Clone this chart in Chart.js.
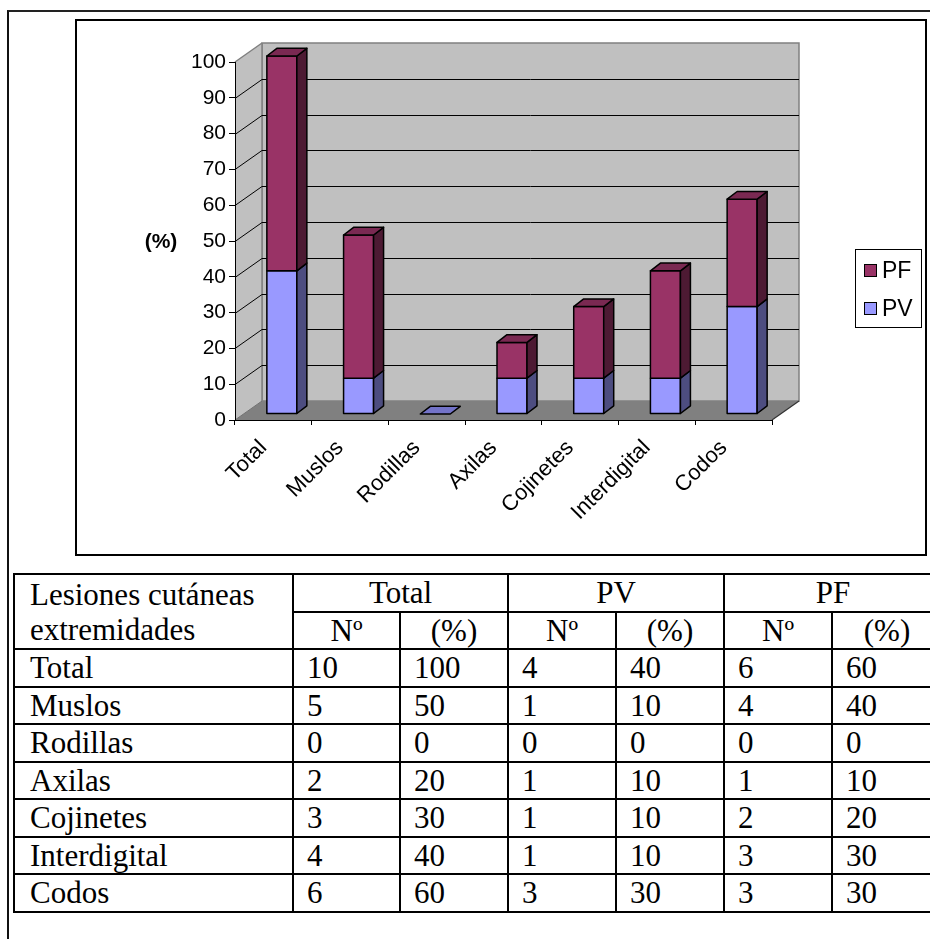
<!DOCTYPE html>
<html lang="es">
<head>
<meta charset="utf-8">
<script src="https://cdn.jsdelivr.net/npm/chart.js@4.4.1/dist/chart.umd.min.js"></script>
<style>
  html, body { margin: 0; padding: 0; background: #fff; }
  body { width: 930px; height: 939px; overflow: hidden; position: relative; }
  #frame { position: absolute; left: 7px; top: 10px; width: 960px; height: 960px;
           border-top: 2px solid #222; border-left: 2px solid #111; }
  #chartBox { position: absolute; left: 75px; top: 19px; width: 852px; height: 537px;
              box-sizing: border-box; border: 2px solid #000; z-index: 2; pointer-events: none; }
  #chart { position: absolute; left: 0; top: 0; z-index: 1; }
  table { position: absolute; left: 13px; top: 573px; border-collapse: collapse; table-layout: fixed;
          width: 928px; font-family: 'Liberation Serif', 'Times New Roman', serif; font-size: 31px; color: #000; }
  td { border: 2px solid #000; padding: 0 0 0 13px; height: 35.5px; line-height: 1; white-space: nowrap; vertical-align: middle; }
  td.c { text-align: center; padding: 0; }
  td.head { line-height: 35px; padding-left: 15px; }
  td.first { padding-left: 15px; }
</style>
</head>
<body>
<div id="frame"></div>
<canvas id="chart" width="930" height="556"></canvas>
<div id="chartBox"></div>
<table id="tbl">
  <colgroup>
    <col style="width:279px"><col style="width:107px"><col style="width:108px">
    <col style="width:108px"><col style="width:108px"><col style="width:108px"><col style="width:110px">
  </colgroup>
  <tbody id="tbody"></tbody>
</table>
<script>
// Lesiones cutáneas en extremidades: PV / PF
const categories = ['Total', 'Muslos', 'Rodillas', 'Axilas', 'Cojinetes', 'Interdigital', 'Codos'];
const totalCount = [10, 5, 0, 2, 3, 4, 6];
const totalPct   = [100, 50, 0, 20, 30, 40, 60];
const pvCount    = [4, 1, 0, 1, 1, 1, 3];
const pvPct      = [40, 10, 0, 10, 10, 10, 30];
const pfCount    = [6, 4, 0, 1, 2, 3, 3];
const pfPct      = [60, 40, 0, 10, 20, 30, 30];
const yTickStep  = 10;
const yMax       = 100;

// table
const tbody = document.getElementById('tbody');
let html = '<tr><td class="head" rowspan="2">Lesiones cutáneas<br>extremidades</td>' +
  '<td class="c" colspan="2">Total</td><td class="c" colspan="2">PV</td><td class="c" colspan="2">PF</td></tr>' +
  '<tr>' + ['Nº', '(%)', 'Nº', '(%)', 'Nº', '(%)'].map(t => '<td class="c">' + t + '</td>').join('') + '</tr>';
categories.forEach((c, i) => {
  html += '<tr><td class="first">' + c + '</td><td>' + totalCount[i] + '</td><td>' + totalPct[i] +
    '</td><td>' + pvCount[i] + '</td><td>' + pvPct[i] + '</td><td>' + pfCount[i] + '</td><td>' + pfPct[i] + '</td></tr>';
});
tbody.innerHTML = html;

// 3D look
const WALL_DX = 27, WALL_DY = -19;   // depth of the walls and floor
const BAR_OX = 8.5, BAR_OY = -6;     // bars sit inside the depth
const BAR_DX = 10, BAR_DY = -7.7;    // depth of each bar
const shades = [
  { front: '#9999FF', side: '#4D4D80', top: '#7373C8' },  // PV
  { front: '#993366', side: '#4D1A33', top: '#7A2952' }   // PF
];
const FONT = "'Liberation Sans', Arial, sans-serif";

function poly(ctx, pts, fill, stroke, lw) {
  ctx.beginPath();
  ctx.moveTo(pts[0][0], pts[0][1]);
  for (let k = 1; k < pts.length; k++) ctx.lineTo(pts[k][0], pts[k][1]);
  ctx.closePath();
  if (fill) { ctx.fillStyle = fill; ctx.fill(); }
  if (stroke) { ctx.strokeStyle = stroke; ctx.lineWidth = lw || 1; ctx.stroke(); }
}
function line(ctx, x1, y1, x2, y2, color, lw) {
  ctx.beginPath(); ctx.moveTo(x1, y1); ctx.lineTo(x2, y2);
  ctx.strokeStyle = color; ctx.lineWidth = lw || 1; ctx.stroke();
}

const walls3d = {
  id: 'walls3d',
  beforeDraw(chart) {
    const { ctx, chartArea: a, scales: { y } } = chart;
    const L = a.left, R = a.right, T = a.top, B = a.bottom;
    ctx.save();
    // back wall
    poly(ctx, [[L + WALL_DX, T + WALL_DY], [R + WALL_DX, T + WALL_DY], [R + WALL_DX, B + WALL_DY], [L + WALL_DX, B + WALL_DY]], '#C0C0C0', '#808080', 1.5);
    // side wall
    poly(ctx, [[L, T], [L + WALL_DX, T + WALL_DY], [L + WALL_DX, B + WALL_DY], [L, B]], '#C0C0C0', null);
    line(ctx, L, T, L + WALL_DX, T + WALL_DY, '#808080', 1.5);
    line(ctx, L + WALL_DX, T + WALL_DY, L + WALL_DX, B + WALL_DY, '#808080', 1.5);
    // grid lines on the walls
    y.ticks.forEach(t => {
      if (t.value <= 0 || t.value >= yMax) return;
      const py = Math.round(y.getPixelForValue(t.value)) + 0.5;
      line(ctx, L + WALL_DX, py + WALL_DY, R + WALL_DX, py + WALL_DY, '#000', 1);
      line(ctx, L, py, L + WALL_DX, py + WALL_DY, '#000', 1);
    });
    // floor
    poly(ctx, [[L, B], [R, B], [R + WALL_DX, B + WALL_DY], [L + WALL_DX, B + WALL_DY]], '#808080', null);
    line(ctx, L, B, L + WALL_DX, B + WALL_DY, '#707070', 1);
    line(ctx, R, B, R + WALL_DX, B + WALL_DY, '#333', 1.2);
    ctx.restore();
  },
  beforeDatasetsDraw(chart) {
    const ctx = chart.ctx;
    const metas = chart.data.datasets.map((d, i) => chart.getDatasetMeta(i));
    ctx.save();
    ctx.lineJoin = 'round';
    for (let i = 0; i < categories.length; i++) {
      let topIdx = 0;
      metas.forEach((m, d) => { if (chart.data.datasets[d].data[i] > 0) topIdx = d; });
      metas.forEach((m, d) => {
        const el = m.data[i];
        const value = chart.data.datasets[d].data[i];
        const x0 = el.x - el.width / 2 + BAR_OX, x1 = el.x + el.width / 2 + BAR_OX;
        const yt = el.y + BAR_OY, yb = el.base + BAR_OY;
        const s = shades[d];
        if (value > 0) {
          poly(ctx, [[x0, yt], [x1, yt], [x1, yb], [x0, yb]], s.front, '#000', 1.5);
          poly(ctx, [[x1, yb], [x1 + BAR_DX, yb + BAR_DY], [x1 + BAR_DX, yt + BAR_DY], [x1, yt]], s.side, '#000', 1.5);
        }
        if (d === topIdx) {
          poly(ctx, [[x0, yt], [x0 + BAR_DX, yt + BAR_DY], [x1 + BAR_DX, yt + BAR_DY], [x1, yt]], s.top, '#000', 1.5);
        }
      });
    }
    ctx.restore();
    return false;
  },
  afterDraw(chart) {
    const ctx = chart.ctx;
    ctx.save();
    // axis caption
    ctx.fillStyle = '#000';
    ctx.font = 'bold 21px ' + FONT;
    ctx.textAlign = 'center';
    ctx.textBaseline = 'middle';
    ctx.fillText('(%)', 161, 242);
    // legend box (series listed top-down in reverse stacking order)
    ctx.strokeStyle = '#000';
    ctx.lineWidth = 1;
    ctx.strokeRect(855.5, 249.5, 66, 78);
    ctx.font = '23px ' + FONT;
    ctx.textAlign = 'left';
    const order = chart.data.datasets.map((d, i) => i).reverse();
    order.forEach((d, k) => {
      const cy = 271 + k * 38;
      ctx.fillStyle = shades[d].front;
      ctx.fillRect(864.5, cy - 6.5, 12, 12);
      ctx.strokeRect(864.5, cy - 6.5, 12, 12);
      ctx.fillStyle = '#000';
      ctx.fillText(chart.data.datasets[d].label, 882, cy + 1);
    });
    ctx.restore();
  }
};

new Chart(document.getElementById('chart'), {
  type: 'bar',
  data: {
    labels: categories,
    datasets: [
      { label: 'PV', data: pvPct, backgroundColor: shades[0].front, barThickness: 30 },
      { label: 'PF', data: pfPct, backgroundColor: shades[1].front, barThickness: 30 }
    ]
  },
  options: {
    responsive: false,
    animation: false,
    devicePixelRatio: 1,
    layout: { padding: { left: 0, top: 62, right: 158, bottom: 0 } },
    plugins: { legend: { display: false }, tooltip: { enabled: false } },
    scales: {
      x: {
        stacked: true,
        offset: true,
        grid: { offset: true, drawOnChartArea: false, color: '#000', tickLength: 5 },
        border: { display: true, color: '#000', width: 1 },
        ticks: { autoSkip: false, maxRotation: 45, minRotation: 45, padding: 10, labelOffset: -10, color: '#000', font: { family: FONT, size: 22 } },
        afterFit(scale) { scale.height = 136; }
      },
      y: {
        stacked: true,
        min: 0,
        max: yMax,
        grid: { drawOnChartArea: false, color: '#000', tickLength: 6 },
        border: { display: true, color: '#000', width: 1 },
        ticks: { stepSize: yTickStep, padding: 3, color: '#000', font: { family: FONT, size: 21 } },
        afterFit(scale) { scale.width = 235; }
      }
    }
  },
  plugins: [walls3d]
});
</script>
</body>
</html>
